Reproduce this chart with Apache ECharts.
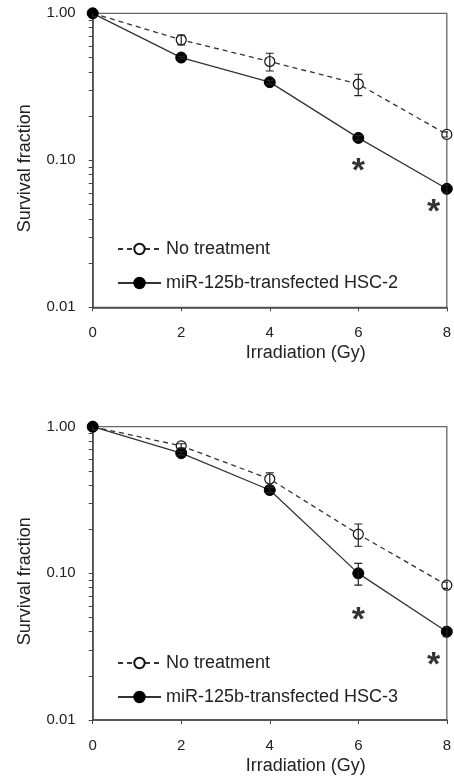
<!DOCTYPE html>
<html>
<head>
<meta charset="utf-8">
<title>Survival fraction</title>
<script src="https://cdn.jsdelivr.net/npm/echarts@6/dist/echarts.min.js"></script>
<style>
    html, body { margin: 0; padding: 0; background: #fff; }
    #chart { width: 454px; height: 776px; }
</style>
</head>
<body>
<div id="chart"></div>
<script>
// irradiation doses (Gy)
var doses = [0, 2, 4, 6, 8];

// HSC-2 panel
var hsc2Control = [1.00, 0.66, 0.47, 0.33, 0.15];
var hsc2ControlErr = [0.05, 0.05, 0.065, 0.055, 0.006];
var hsc2Mir = [1.00, 0.50, 0.34, 0.142, 0.064];
var hsc2MirErr = [0.05, 0.01, 0.01, 0.005, 0.004];

// HSC-3 panel
var hsc3Control = [1.00, 0.74, 0.44, 0.185, 0.083];
var hsc3ControlErr = [0.05, 0.025, 0.045, 0.032, 0.004];
var hsc3Mir = [1.00, 0.66, 0.37, 0.10, 0.040];
var hsc3MirErr = [0.05, 0.02, 0.015, 0.017, 0.003];

// significance marks
var starX = [6, 7.7];
var hsc2Stars = [0.093, 0.049];
var hsc3Stars = [0.0535, 0.0264];

var yLabels = [0.01, 0.1, 1];
var yTicks = [0.01, 0.02, 0.03, 0.04, 0.05, 0.06, 0.07, 0.08, 0.09,
              0.1, 0.2, 0.3, 0.4, 0.5, 0.6, 0.7, 0.8, 0.9, 1];

var legendNames = ['No treatment', 'miR-125b-transfected HSC-2', 'miR-125b-transfected HSC-3'];

var textColor = '#222';
var lineColor = '#333';
var fontFamily = 'Arial, "Liberation Sans", sans-serif';

function pairs(xs, ys) {
    var out = [];
    for (var i = 0; i < xs.length; i++) {
        out.push([xs[i], ys[i]]);
    }
    return out;
}

function triples(xs, ys, errs) {
    var out = [];
    for (var i = 0; i < xs.length; i++) {
        out.push([xs[i], ys[i], errs[i]]);
    }
    return out;
}

// error bar with caps
function renderErrorBar(params, api) {
    var x = api.value(0);
    var y = api.value(1);
    var e = api.value(2);
    var hi = api.coord([x, y + e]);
    var lo = api.coord([x, y - e]);
    var half = 4;
    var style = { stroke: '#222', lineWidth: 1.2 };
    return {
        type: 'group',
        children: [
            { type: 'line', shape: { x1: hi[0], y1: hi[1], x2: lo[0], y2: lo[1] }, style: style },
            { type: 'line', shape: { x1: hi[0] - half, y1: hi[1], x2: hi[0] + half, y2: hi[1] }, style: style },
            { type: 'line', shape: { x1: lo[0] - half, y1: lo[1], x2: lo[0] + half, y2: lo[1] }, style: style }
        ]
    };
}

function xAxisFor(idx) {
    return {
        type: 'value',
        gridIndex: idx,
        min: 0,
        max: 8,
        interval: 2,
        name: 'Irradiation (Gy)',
        nameLocation: 'middle',
        nameGap: 37,
        nameTextStyle: { color: textColor, fontSize: 18, fontFamily: fontFamily, padding: [0, 0, 0, 72] },
        axisLine: { lineStyle: { color: '#444', width: 1.5 } },
        axisTick: { show: true, length: 4, lineStyle: { color: '#444' } },
        axisLabel: { color: textColor, fontSize: 15, fontFamily: fontFamily, margin: 18 },
        splitLine: { show: false }
    };
}

function yAxisFor(idx) {
    return {
        type: 'log',
        logBase: 10,
        gridIndex: idx,
        min: 0.01,
        max: 1,
        name: 'Survival fraction',
        nameLocation: 'middle',
        nameGap: 59,
        nameTextStyle: { color: textColor, fontSize: 18, fontFamily: fontFamily, padding: [0, 16, 0, 0] },
        axisLine: { show: true, lineStyle: { color: '#444', width: 1.5 } },
        axisTick: { show: true, length: 4, customValues: yTicks, lineStyle: { color: '#444' } },
        axisLabel: {
            color: textColor, fontSize: 15, fontFamily: fontFamily, margin: 17,
            customValues: yLabels,
            formatter: function (v) { return Number(v).toFixed(2); }
        },
        splitLine: { show: false }
    };
}

function panelSeries(idx, control, controlErr, mir, mirErr, mirName, stars) {
    return [
        {
            name: legendNames[0],
            type: 'line',
            xAxisIndex: idx,
            yAxisIndex: idx,
            data: pairs(doses, control),
            symbol: 'circle',
            symbolSize: 10,
            lineStyle: { color: lineColor, width: 1.3, type: [5, 4] },
            itemStyle: { color: '#fff', borderColor: '#111', borderWidth: 1.2 },
            z: 2
        },
        {
            name: mirName,
            type: 'line',
            xAxisIndex: idx,
            yAxisIndex: idx,
            data: pairs(doses, mir),
            symbol: 'circle',
            symbolSize: 11,
            lineStyle: { color: lineColor, width: 1.3 },
            itemStyle: { color: '#000', borderColor: '#000', borderWidth: 1 },
            z: 3
        },
        {
            type: 'custom',
            xAxisIndex: idx,
            yAxisIndex: idx,
            renderItem: renderErrorBar,
            clip: true,
            data: triples(doses, control, controlErr),
            z: 4
        },
        {
            type: 'custom',
            xAxisIndex: idx,
            yAxisIndex: idx,
            renderItem: renderErrorBar,
            clip: true,
            data: triples(doses, mir, mirErr),
            z: 4
        },
        {
            type: 'scatter',
            xAxisIndex: idx,
            yAxisIndex: idx,
            data: pairs(starX, stars),
            symbol: 'circle',
            symbolSize: 1,
            itemStyle: { color: 'rgba(0,0,0,0)' },
            label: {
                show: true,
                position: 'inside',
                formatter: '*',
                color: '#000',
                fontSize: 34,
                fontWeight: 'bold',
                fontFamily: fontFamily,
                offset: [0, 7]
            },
            z: 5
        }
    ];
}

function legendFor(top, mirName) {
    return {
        orient: 'vertical',
        left: 112,
        top: top,
        itemWidth: 43,
        itemHeight: 13,
        itemGap: 12,
        data: [legendNames[0], mirName],
        textStyle: { color: textColor, fontSize: 18, fontFamily: fontFamily, lineHeight: 22 },
        selectedMode: false
    };
}

var chart = echarts.init(document.getElementById('chart'), null, { renderer: 'canvas' });

var option = {
    animation: false,
    backgroundColor: '#fff',
    grid: [
        { left: 92.7, top: 13.3, width: 355, height: 294, show: true, borderColor: '#666', borderWidth: 1.3, containLabel: false },
        { left: 92.7, top: 426.7, width: 355, height: 293.3, show: true, borderColor: '#666', borderWidth: 1.3, containLabel: false }
    ],
    legend: [
        legendFor(233, legendNames[1]),
        legendFor(647, legendNames[2])
    ],
    xAxis: [xAxisFor(0), xAxisFor(1)],
    yAxis: [yAxisFor(0), yAxisFor(1)],
    series: panelSeries(0, hsc2Control, hsc2ControlErr, hsc2Mir, hsc2MirErr, legendNames[1], hsc2Stars)
        .concat(panelSeries(1, hsc3Control, hsc3ControlErr, hsc3Mir, hsc3MirErr, legendNames[2], hsc3Stars))
};

chart.setOption(option);
</script>
</body>
</html>
